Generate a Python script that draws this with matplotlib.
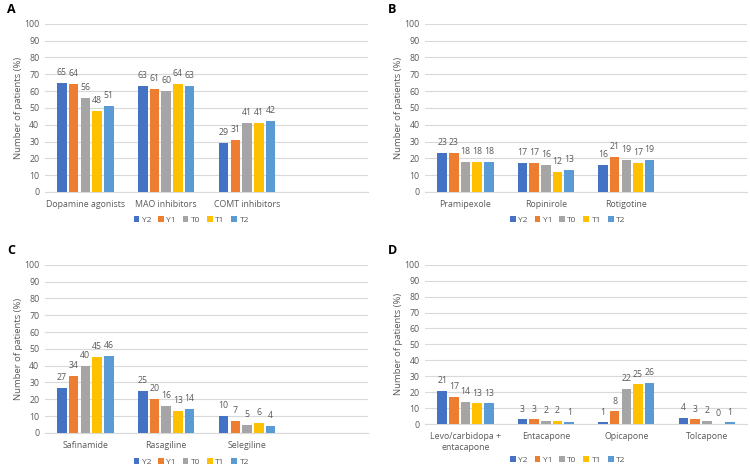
import numpy as np
import matplotlib
matplotlib.use("Agg")
import matplotlib.pyplot as plt

plt.rcParams['font.family'] = ['Open Sans', 'DejaVu Sans']

series = ["Y2", "Y1", "T0", "T1", "T2"]
colors = ["#4472C4", "#ED7D31", "#A5A5A5", "#FFC000", "#5B9BD5"]

cats_a = ["Dopamine agonists", "MAO inhibitors", "COMT inhibitors"]
vals_a = [[65, 63, 29], [64, 61, 31], [56, 60, 41], [48, 64, 41], [51, 63, 42]]

cats_b = ["Pramipexole", "Ropinirole", "Rotigotine"]
vals_b = [[23, 17, 16], [23, 17, 21], [18, 16, 19], [18, 12, 17], [18, 13, 19]]

cats_c = ["Safinamide", "Rasagiline", "Selegiline"]
vals_c = [[27, 25, 10], [34, 20, 7], [40, 16, 5], [45, 13, 6], [46, 14, 4]]

cats_d = ["Levo/carbidopa +\nentacapone", "Entacapone", "Opicapone", "Tolcapone"]
vals_d = [[21, 3, 1, 4], [17, 3, 8, 3], [14, 2, 22, 2], [13, 2, 25, 0], [13, 1, 26, 1]]

txt = "#595959"
fig = plt.figure(figsize=(7.5, 4.67), dpi=100)


def panel(rect, letter, cats, vals, leg_x, leg_y):
    ax = fig.add_axes(rect)
    x = np.arange(len(cats))
    w = 0.118
    step = 0.145
    for i, s in enumerate(series):
        pos = x + (i - 2) * step
        bars = ax.bar(pos, vals[i], w, color=colors[i], label=s, zorder=3)
        for b, v in zip(bars, vals[i]):
            ax.text(b.get_x() + b.get_width() / 2, v + 3.5, str(v),
                    ha="center", va="bottom", fontsize=6.3, color=txt)
    ax.set_xlim(-0.5, 3.5)
    ax.set_ylim(0, 100)
    ax.set_yticks(range(0, 101, 10))
    ax.set_xticks(x)
    ax.set_xticklabels(cats)
    ax.tick_params(length=0, labelsize=6.3, colors=txt, pad=4)
    ax.tick_params(axis="x", pad=6)
    ax.grid(axis="y", color="#D9D9D9", linewidth=0.8, zorder=0)
    for sp in ["top", "right", "left"]:
        ax.spines[sp].set_visible(False)
    ax.spines["bottom"].set_color("#D9D9D9")
    ax.set_ylabel("Number of patients (%)", fontsize=6.8, color=txt, labelpad=1)
    fig.text(rect[0] - 0.05, rect[1] + rect[3] + 0.03, letter,
             fontsize=9, fontweight="bold", va="center")
    fig.legend(*ax.get_legend_handles_labels(), loc="center",
               bbox_to_anchor=(leg_x, leg_y), ncol=5, frameon=False,
               fontsize=6, handlelength=0.7, handleheight=0.7,
               handletextpad=0.3, columnspacing=0.8, labelcolor=txt)
    return ax


panel([0.06, 0.589, 0.431, 0.36], "A", cats_a, vals_a, 0.255, 0.529)
panel([0.567, 0.589, 0.429, 0.36], "B", cats_b, vals_b, 0.757, 0.529)
panel([0.06, 0.073, 0.431, 0.36], "C", cats_c, vals_c, 0.255, 0.011)
panel([0.567, 0.092, 0.429, 0.341], "D", cats_d, vals_d, 0.757, 0.015)

fig.savefig("out.png", dpi=100)
